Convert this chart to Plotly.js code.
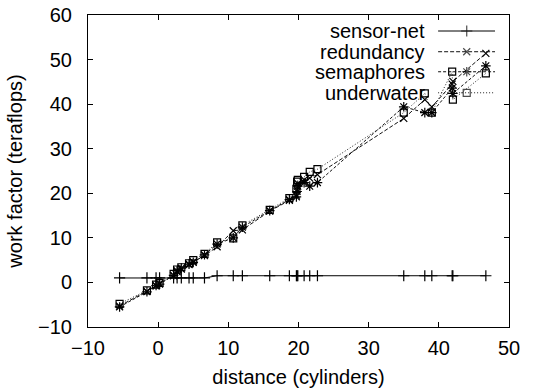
<!DOCTYPE html>
<html>
<head>
<meta charset="utf-8">
<script src="https://cdn.plot.ly/plotly-3.0.1.min.js"></script>
<style>
html,body{margin:0;padding:0;background:#fff;}
#chart{width:534px;height:389px;}
</style>
</head>
<body>
<div id="chart"></div>
<script>
// ---- data ----
const distance   = [-5.5, -1.6, -0.3, 0.2, 2.2, 2.7, 3.3, 4.4, 5.0, 6.6, 8.4, 10.7, 12.0, 15.9, 18.7, 19.7, 19.8, 19.9, 20.8, 21.6, 22.7, 35.0, 38.0, 39.0, 41.9, 42.0, 46.7];
const sensorNet  = [1.0, 1.0, 1.0, 1.0, 1.0, 1.0, 1.0, 1.0, 1.0, 1.0, 1.5, 1.5, 1.5, 1.5, 1.5, 1.5, 1.5, 1.5, 1.5, 1.5, 1.5, 1.5, 1.5, 1.5, 1.5, 1.5, 1.5];
const redundancy = [-5.3, -2.0, -0.8, -0.2, 1.5, 2.4, 3.0, 4.0, 4.6, 6.0, 8.0, 11.6, 11.8, 16.0, 18.4, 19.6, 20.8, 22.2, 23.0, 23.4, 24.2, 36.8, 41.0, 39.4, 44.5, 45.1, 51.4];
const semaphores = [-5.5, -2.1, -0.7, -0.4, 1.6, 2.6, 3.2, 4.1, 4.5, 6.2, 8.6, 10.0, 12.4, 16.1, 18.6, 19.2, 20.4, 21.6, 22.4, 21.6, 22.4, 39.4, 38.1, 38.1, 43.6, 42.4, 48.6];
const underwater = [-4.8, -1.8, -0.5, -0.1, 1.9, 2.9, 3.4, 4.3, 5.0, 6.4, 9.0, 9.9, 12.8, 16.3, 18.9, 21.0, 22.6, 23.0, 23.7, 24.8, 25.4, 38.1, 42.4, 38.1, 47.3, 41.0, 46.9];
const seriesNames = ['sensor-net', 'redundancy', 'semaphores', 'underwater'];
const xTickVals = [-10, 0, 10, 20, 30, 40, 50];
const yTickVals = [-10, 0, 10, 20, 30, 40, 50, 60];
const xTitle = 'distance (cylinders)';
const yTitle = 'work factor (teraflops)';

// ---- styles ----
const FONT = 'Liberation Sans, Arial, Helvetica, sans-serif';
const FS = 20;
const values = [sensorNet, redundancy, semaphores, underwater];
const symbols = ['cross-thin-open', 'x-thin-open', 'asterisk-open', 'square-open'];
const dashes = ['solid', '4px,2px', '3px,2px', '1px,2px'];
const lineColors = ['#000', '#111', '#111', '#222'];
const markerSizes = [8, 7, 8, 7];

const traces = [];
values.forEach((ys, i) => {
  traces.push({
    type: 'scatter', mode: 'lines+markers',
    x: distance, y: ys, name: seriesNames[i], showlegend: false,
    line: {color: lineColors[i], width: 1, dash: dashes[i]},
    marker: {symbol: symbols[i], size: markerSizes[i], color: '#000', line: {color: '#000', width: 1.2}}
  });
});

// ---- custom legend (text left, sample right, like gnuplot) ----
const legSampleX = [0.8316, 0.8996, 0.9668];
const legRowY = [0.9487, 0.8823, 0.8181, 0.7507];
const legTextX = 0.806;
const annotations = [];
seriesNames.forEach((n, i) => {
  traces.push({
    type: 'scatter', mode: 'lines+markers', xaxis: 'x2', yaxis: 'y2',
    x: legSampleX, y: [legRowY[i], legRowY[i], legRowY[i]], showlegend: false, hoverinfo: 'skip',
    line: {color: lineColors[i], width: 1, dash: dashes[i]},
    marker: {symbol: symbols[i], size: [0, markerSizes[i], 0], color: '#000', line: {color: '#000', width: 1.2}}
  });
  annotations.push({
    xref: 'paper', yref: 'paper', x: legTextX, y: legRowY[i], xanchor: 'right', yanchor: 'middle',
    text: n, showarrow: false, font: {family: FONT, size: FS, color: '#000'}
  });
});

const axisCommon = {
  showline: true, linecolor: '#000', linewidth: 1, mirror: 'ticks',
  ticks: 'inside', ticklen: 5, tickwidth: 1, tickcolor: '#000',
  showgrid: false, zeroline: false,
  tickfont: {family: FONT, size: FS, color: '#000'}
};

const layout = {
  width: 534, height: 389,
  margin: {l: 87.5, r: 25, t: 15, b: 62.3},
  paper_bgcolor: '#fff', plot_bgcolor: '#fff',
  showlegend: false,
  xaxis: Object.assign({}, axisCommon, {
    range: [-10, 50], tickmode: 'array', tickvals: xTickVals,
    ticklabelstandoff: 3,
    title: {text: xTitle, font: {family: FONT, size: FS, color: '#000'}, standoff: 11}
  }),
  yaxis: Object.assign({}, axisCommon, {
    range: [-10, 60], tickmode: 'array', tickvals: yTickVals,
    ticklabelstandoff: 11,
    title: {text: yTitle, font: {family: FONT, size: FS, color: '#000'}, standoff: 10}
  }),
  xaxis2: {overlaying: 'x', range: [0, 1], visible: false, fixedrange: true},
  yaxis2: {overlaying: 'y', range: [0, 1], visible: false, fixedrange: true},
  annotations: annotations
};

Plotly.newPlot('chart', traces, layout, {staticPlot: true, displayModeBar: false});
</script>
</body>
</html>
